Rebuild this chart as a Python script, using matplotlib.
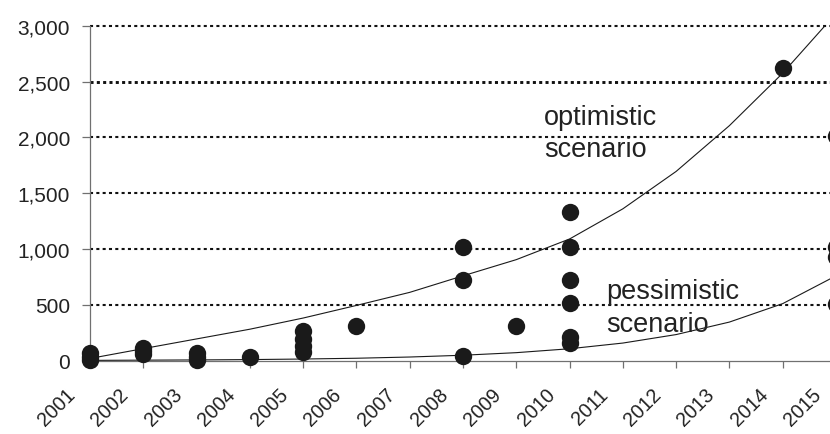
import matplotlib
matplotlib.use("Agg")
import matplotlib.pyplot as plt
import matplotlib.transforms as mtransforms
from matplotlib.ticker import FuncFormatter

plt.rcParams['font.family'] = ['Liberation Sans', 'DejaVu Sans']

# --- data ---
years = list(range(2001, 2016))

# observed estimates, one list of values per year
obs_years = [2001, 2002, 2003, 2004, 2005, 2006, 2008, 2009, 2010, 2014, 2015]
obs_values = [
    [5, 35, 70],
    [60, 90, 115],
    [5, 35, 70],
    [30],
    [80, 130, 190, 270],
    [310],
    [1015, 720, 45],
    [310],
    [1330, 1015, 720, 520, 210, 160],
    [2620],
    [2010, 1015, 930, 510],
]

# scenario curves, value at each year
optimistic = [20, 108, 195, 282, 382, 495, 612, 760, 905, 1090, 1360, 1695, 2105, 2575, 3110]
pessimistic = [3, 5, 7, 10, 15, 22, 33, 49, 72, 107, 158, 234, 346, 511, 760]

grid_levels = [500, 1000, 1500, 2000, 2500, 3000]
y_ticks = [0, 500, 1000, 1500, 2000, 2500, 3000]

ink = '#1a1a1a'
axis_grey = '#707070'

fig = plt.figure(figsize=(8.3, 4.35), dpi=100)
ax = fig.add_axes([0.1084, 0.1685, 0.8988, 0.7701])

# dotted grid lines (square dots, ~6 px period)
for lvl in grid_levels:
    lw = 2.1 if lvl == 2500 else 1.5
    ax.axhline(lvl, color='#111111', lw=lw, linestyle=(0, (2.2 / lw, 2.35 / lw)),
               dash_capstyle='butt', clip_on=False, zorder=1)

# trend curves
ax.plot(years, optimistic, color=ink, lw=0.8, zorder=3)
ax.plot(years, pessimistic, color=ink, lw=0.8, zorder=3)

# points
xs, ys = [], []
for yr, vals in zip(obs_years, obs_values):
    for v in vals:
        xs.append(yr)
        ys.append(v)
ax.plot(xs, ys, 'o', ms=12.5, mew=0, color=ink, clip_on=False, zorder=5)

ax.text(2009.52, 2122, 'optimistic', fontsize=19.5, color='#222222', ha='left', va='baseline')
ax.text(2009.52, 1836, 'scenario', fontsize=19.5, color='#222222', ha='left', va='baseline')
ax.text(2010.69, 564, 'pessimistic', fontsize=19.5, color='#222222', ha='left', va='baseline')
ax.text(2010.69, 269, 'scenario', fontsize=19.5, color='#222222', ha='left', va='baseline')

ax.set_xlim(2001, 2015)
ax.set_ylim(0, 3000)

ax.set_yticks(y_ticks)
ax.yaxis.set_major_formatter(FuncFormatter(lambda v, p: f"{int(v):,}"))
ax.set_xticks(years)
ax.set_xticklabels([str(y) for y in years], rotation=45, ha='right', va='top')

ax.tick_params(axis='y', direction='out', length=5.8, width=0.9, color=axis_grey,
               pad=8.4, labelsize=15, labelcolor='#222222')
ax.tick_params(axis='x', direction='out', length=5, width=0.9, color=axis_grey,
               pad=12, labelsize=14.2, labelcolor='#222222')

offset = mtransforms.ScaledTranslation(-11 / 100, 0, fig.dpi_scale_trans)
for lab in ax.get_xticklabels():
    lab.set_transform(lab.get_transform() + offset)

for side in ['top', 'right']:
    ax.spines[side].set_visible(False)
ax.spines['left'].set_color(axis_grey)
ax.spines['bottom'].set_color(axis_grey)
ax.spines['left'].set_linewidth(0.9)
ax.spines['bottom'].set_linewidth(0.9)

fig.savefig('out.png', dpi=100)
